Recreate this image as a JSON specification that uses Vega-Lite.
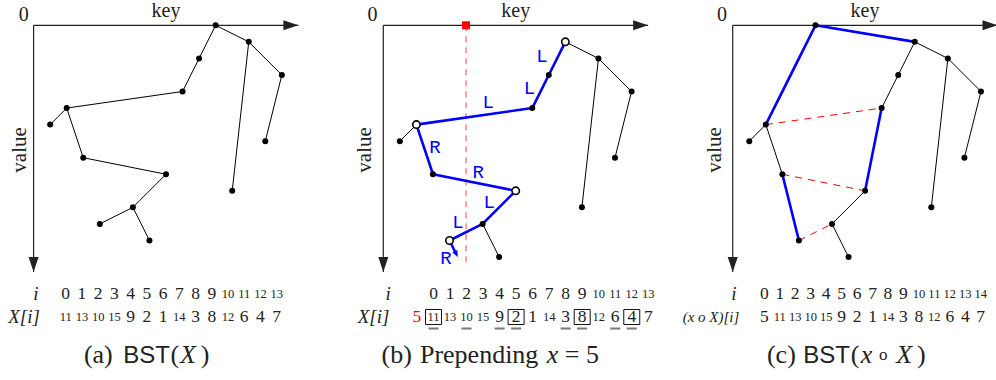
{
 "$schema": "https://vega.github.io/schema/vega-lite/v6.json",
 "padding": 0,
 "background": "white",
 "spacing": 0,
 "bounds": "flush",
 "config": {"view": {"stroke": null}},
 "datasets": {
  "axes": [{"k1":0,"v1":0,"k2":16,"v2":0},{"k1":0,"v1":0,"k2":0,"v2":14.9}],
  "nodesA": [{"k":11,"v":0},{"k":13,"v":1},{"k":10,"v":2},{"k":15,"v":3},{"k":9,"v":4},{"k":2,"v":5},{"k":1,"v":6},{"k":14,"v":7},{"k":3,"v":8},{"k":8,"v":9},{"k":12,"v":10},{"k":6,"v":11},{"k":4,"v":12},{"k":7,"v":13}],
  "edgesA": [{"k1":11,"v1":0,"k2":13,"v2":1},{"k1":11,"v1":0,"k2":10,"v2":2},{"k1":13,"v1":1,"k2":15,"v2":3},{"k1":13,"v1":1,"k2":12,"v2":10},{"k1":15,"v1":3,"k2":14,"v2":7},{"k1":10,"v1":2,"k2":9,"v2":4},{"k1":9,"v1":4,"k2":2,"v2":5},{"k1":2,"v1":5,"k2":1,"v2":6},{"k1":2,"v1":5,"k2":3,"v2":8},{"k1":3,"v1":8,"k2":8,"v2":9},{"k1":8,"v1":9,"k2":6,"v2":11},{"k1":6,"v1":11,"k2":4,"v2":12},{"k1":6,"v1":11,"k2":7,"v2":13}],
  "nodesB": [{"k":11,"v":1,"turn":true},{"k":13,"v":2,"turn":false},{"k":10,"v":3,"turn":false},{"k":15,"v":4,"turn":false},{"k":9,"v":5,"turn":false},{"k":2,"v":6,"turn":true},{"k":1,"v":7,"turn":false},{"k":14,"v":8,"turn":false},{"k":3,"v":9,"turn":false},{"k":8,"v":10,"turn":true},{"k":12,"v":11,"turn":false},{"k":6,"v":12,"turn":false},{"k":4,"v":13,"turn":true},{"k":7,"v":14,"turn":false}],
  "edgesB": [{"k1":11,"v1":1,"k2":13,"v2":2},{"k1":13,"v1":2,"k2":15,"v2":4},{"k1":13,"v1":2,"k2":12,"v2":11},{"k1":15,"v1":4,"k2":14,"v2":8},{"k1":2,"v1":6,"k2":1,"v2":7},{"k1":6,"v1":12,"k2":7,"v2":14}],
  "pathB": [{"k":11,"v":1,"o":0},{"k":10,"v":3,"o":1},{"k":9,"v":5,"o":2},{"k":2,"v":6,"o":3},{"k":3,"v":9,"o":4},{"k":8,"v":10,"o":5},{"k":6,"v":12,"o":6},{"k":4,"v":13,"o":7}],
  "dirB": [{"k":9.59,"v":1.86,"t":"L"},{"k":8.83,"v":3.76,"t":"L"},{"k":6.34,"v":4.66,"t":"L"},{"k":3.12,"v":7.34,"t":"R"},{"k":5.74,"v":8.89,"t":"R"},{"k":6.4,"v":10.68,"t":"L"},{"k":4.51,"v":11.87,"t":"L"},{"k":3.79,"v":14.04,"t":"R"}],
  "nodesC": [{"k":5,"v":0},{"k":11,"v":1},{"k":13,"v":2},{"k":10,"v":3},{"k":15,"v":4},{"k":9,"v":5},{"k":2,"v":6},{"k":1,"v":7},{"k":14,"v":8},{"k":3,"v":9},{"k":8,"v":10},{"k":12,"v":11},{"k":6,"v":12},{"k":4,"v":13},{"k":7,"v":14}],
  "edgesC": [{"k1":11,"v1":1,"k2":13,"v2":2},{"k1":11,"v1":1,"k2":10,"v2":3},{"k1":10,"v1":3,"k2":9,"v2":5},{"k1":13,"v1":2,"k2":15,"v2":4},{"k1":13,"v1":2,"k2":12,"v2":11},{"k1":15,"v1":4,"k2":14,"v2":8},{"k1":2,"v1":6,"k2":1,"v2":7},{"k1":2,"v1":6,"k2":3,"v2":9},{"k1":8,"v1":10,"k2":6,"v2":12},{"k1":6,"v1":12,"k2":7,"v2":14}],
  "blueC": [{"k1":5,"v1":0,"k2":11,"v2":1},{"k1":5,"v1":0,"k2":2,"v2":6},{"k1":3,"v1":9,"k2":4,"v2":13},{"k1":9,"v1":5,"k2":8,"v2":10}],
  "cutC": [{"k1":2,"v1":6,"k2":9,"v2":5},{"k1":3,"v1":9,"k2":8,"v2":10},{"k1":4,"v1":13,"k2":6,"v2":12}],
  "tabA": [{"i":0,"row":"i","n":0},{"i":1,"row":"i","n":1},{"i":2,"row":"i","n":2},{"i":3,"row":"i","n":3},{"i":4,"row":"i","n":4},{"i":5,"row":"i","n":5},{"i":6,"row":"i","n":6},{"i":7,"row":"i","n":7},{"i":8,"row":"i","n":8},{"i":9,"row":"i","n":9},{"i":10,"row":"i","n":10},{"i":11,"row":"i","n":11},{"i":12,"row":"i","n":12},{"i":13,"row":"i","n":13},
   {"i":0,"row":"X","n":11},{"i":1,"row":"X","n":13},{"i":2,"row":"X","n":10},{"i":3,"row":"X","n":15},{"i":4,"row":"X","n":9},{"i":5,"row":"X","n":2},{"i":6,"row":"X","n":1},{"i":7,"row":"X","n":14},{"i":8,"row":"X","n":3},{"i":9,"row":"X","n":8},{"i":10,"row":"X","n":12},{"i":11,"row":"X","n":6},{"i":12,"row":"X","n":4},{"i":13,"row":"X","n":7}],
  "tabB": [{"i":0,"row":"i","n":0},{"i":1,"row":"i","n":1},{"i":2,"row":"i","n":2},{"i":3,"row":"i","n":3},{"i":4,"row":"i","n":4},{"i":5,"row":"i","n":5},{"i":6,"row":"i","n":6},{"i":7,"row":"i","n":7},{"i":8,"row":"i","n":8},{"i":9,"row":"i","n":9},{"i":10,"row":"i","n":10},{"i":11,"row":"i","n":11},{"i":12,"row":"i","n":12},{"i":13,"row":"i","n":13},
   {"i":-1,"row":"X","n":5,"path":false,"box":false},{"i":0,"row":"X","n":11,"path":true,"box":true},{"i":1,"row":"X","n":13,"path":false,"box":false},{"i":2,"row":"X","n":10,"path":true,"box":false},{"i":3,"row":"X","n":15,"path":false,"box":false},{"i":4,"row":"X","n":9,"path":true,"box":false},{"i":5,"row":"X","n":2,"path":true,"box":true},{"i":6,"row":"X","n":1,"path":false,"box":false},{"i":7,"row":"X","n":14,"path":false,"box":false},{"i":8,"row":"X","n":3,"path":true,"box":false},{"i":9,"row":"X","n":8,"path":true,"box":true},{"i":10,"row":"X","n":12,"path":false,"box":false},{"i":11,"row":"X","n":6,"path":true,"box":false},{"i":12,"row":"X","n":4,"path":true,"box":true},{"i":13,"row":"X","n":7,"path":false,"box":false}],
  "tabC": [{"i":0,"row":"i","n":0},{"i":1,"row":"i","n":1},{"i":2,"row":"i","n":2},{"i":3,"row":"i","n":3},{"i":4,"row":"i","n":4},{"i":5,"row":"i","n":5},{"i":6,"row":"i","n":6},{"i":7,"row":"i","n":7},{"i":8,"row":"i","n":8},{"i":9,"row":"i","n":9},{"i":10,"row":"i","n":10},{"i":11,"row":"i","n":11},{"i":12,"row":"i","n":12},{"i":13,"row":"i","n":13},{"i":14,"row":"i","n":14},
   {"i":0,"row":"X","n":5},{"i":1,"row":"X","n":11},{"i":2,"row":"X","n":13},{"i":3,"row":"X","n":10},{"i":4,"row":"X","n":15},{"i":5,"row":"X","n":9},{"i":6,"row":"X","n":2},{"i":7,"row":"X","n":1},{"i":8,"row":"X","n":14},{"i":9,"row":"X","n":3},{"i":10,"row":"X","n":8},{"i":11,"row":"X","n":12},{"i":12,"row":"X","n":6},{"i":13,"row":"X","n":4},{"i":14,"row":"X","n":7}]
 },
 "hconcat": [
  {
   "width": 349, "height": 380,
   "resolve": {"scale": {"x": "independent", "y": "independent"}},
   "layer": [
    {
     "encoding": {
      "x": {"field": "k", "type": "quantitative", "scale": {"domain": [-2.03, 19.057], "nice": false, "zero": false}, "axis": null},
      "y": {"field": "v", "type": "quantitative", "scale": {"domain": [-1.529, 21.43], "nice": false, "zero": false, "reverse": true}, "axis": null}
     },
     "layer": [
      {"data": {"name": "axes"}, "mark": {"type": "rule", "color": "#222", "strokeWidth": 1.2},
       "encoding": {"x": {"field": "k1", "type": "quantitative"}, "y": {"field": "v1", "type": "quantitative"}, "x2": {"field": "k2"}, "y2": {"field": "v2"}}},
      {"data": {"values": [{"k": 16, "v": 0}]}, "mark": {"type": "point", "shape": "M0,0L-2,-0.67L-2,0.67Z", "filled": true, "color": "#222", "size": 225, "opacity": 1, "strokeWidth": 0}},
      {"data": {"values": [{"k": 0, "v": 14.9}]}, "mark": {"type": "point", "shape": "M0,0L-0.67,-2L0.67,-2Z", "filled": true, "color": "#222", "size": 225, "opacity": 1, "strokeWidth": 0}},
      {"data": {"name": "edgesA"}, "mark": {"type": "rule", "color": "#000", "strokeWidth": 1},
       "encoding": {"x": {"field": "k1", "type": "quantitative"}, "y": {"field": "v1", "type": "quantitative"}, "x2": {"field": "k2"}, "y2": {"field": "v2"}}},
      {"data": {"name": "nodesA"}, "mark": {"type": "point", "shape": "circle", "filled": true, "color": "#000", "size": 36, "opacity": 1, "strokeWidth": 0}},
      {"data": {"values": [{"k": -0.6, "v": -0.28, "t": "0"}, {"k": 8.0, "v": -0.48, "t": "key"}]}, "mark": {"type": "text", "font": "Liberation Serif", "fontSize": 20, "align": "center", "baseline": "alphabetic", "color": "#222"}, "encoding": {"text": {"field": "t"}}},
      {"data": {"values": [{"k": -0.82, "v": 7.53, "t": "value"}]}, "mark": {"type": "text", "font": "Liberation Serif", "fontSize": 21, "align": "center", "baseline": "middle", "angle": 270, "color": "#222"}, "encoding": {"text": {"field": "t"}}},
      {"data": {"values": [{"k": 3.91, "v": 20.4, "t": "(a)"}, {"k": 8.53, "v": 20.4, "t": "("}, {"k": 10.36, "v": 20.4, "t": ")"}]}, "mark": {"type": "text", "font": "Liberation Serif", "fontSize": 26, "align": "center", "baseline": "alphabetic", "color": "#222"}, "encoding": {"text": {"field": "t"}}},
      {"data": {"values": [{"k": 6.83, "v": 20.4, "t": "BST"}]}, "mark": {"type": "text", "font": "Liberation Sans", "fontSize": 24, "align": "center", "baseline": "alphabetic", "color": "#222"}, "encoding": {"text": {"field": "t"}}},
      {"data": {"values": [{"k": 9.33, "v": 20.4, "t": "X"}]}, "mark": {"type": "text", "font": "Liberation Serif", "fontStyle": "italic", "fontSize": 26, "align": "center", "baseline": "alphabetic", "color": "#222"}, "encoding": {"text": {"field": "t"}}}
     ]
    },
    {
     "encoding": {
      "x": {"field": "i", "type": "quantitative", "scale": {"domain": [-4.048, 17.456], "nice": false, "zero": false}, "axis": null},
      "y": {"field": "row", "type": "ordinal", "scale": {"type": "point", "domain": ["i", "X"], "range": [294, 317], "padding": 0}, "axis": null}
     },
     "layer": [
      {"data": {"name": "tabA"}, "mark": {"type": "text", "font": "Liberation Serif", "align": "center", "baseline": "middle", "color": "#222"},
       "encoding": {"text": {"field": "n", "type": "nominal"}, "size": {"condition": {"test": "datum.n >= 10", "value": 12.5}, "value": 17.5}}},
      {"data": {"values": [{"i": -1.83, "row": "i", "t": "i"}, {"i": -2.57, "row": "X", "t": "X[i]"}]}, "mark": {"type": "text", "font": "Liberation Serif", "fontStyle": "italic", "fontSize": 19, "align": "center", "baseline": "middle", "color": "#222"}, "encoding": {"text": {"field": "t"}}}
     ]
    }
   ]
  },
  {
   "width": 349, "height": 380,
   "resolve": {"scale": {"x": "independent", "y": "independent"}},
   "layer": [
    {
     "encoding": {
      "x": {"field": "k", "type": "quantitative", "scale": {"domain": [-2.073, 19.015], "nice": false, "zero": false}, "axis": null},
      "y": {"field": "v", "type": "quantitative", "scale": {"domain": [-1.529, 21.43], "nice": false, "zero": false, "reverse": true}, "axis": null}
     },
     "layer": [
      {"data": {"name": "axes"}, "mark": {"type": "rule", "color": "#222", "strokeWidth": 1.2},
       "encoding": {"x": {"field": "k1", "type": "quantitative"}, "y": {"field": "v1", "type": "quantitative"}, "x2": {"field": "k2"}, "y2": {"field": "v2"}}},
      {"data": {"values": [{"k": 16, "v": 0}]}, "mark": {"type": "point", "shape": "M0,0L-2,-0.67L-2,0.67Z", "filled": true, "color": "#222", "size": 225, "opacity": 1, "strokeWidth": 0}},
      {"data": {"values": [{"k": 0, "v": 14.9}]}, "mark": {"type": "point", "shape": "M0,0L-0.67,-2L0.67,-2Z", "filled": true, "color": "#222", "size": 225, "opacity": 1, "strokeWidth": 0}},
      {"data": {"values": [{"k1": 5, "v1": 0, "k2": 5, "v2": 14.48}]}, "mark": {"type": "rule", "color": "#ff7070", "strokeWidth": 1.3, "strokeDash": [6, 5]},
       "encoding": {"x": {"field": "k1", "type": "quantitative"}, "y": {"field": "v1", "type": "quantitative"}, "x2": {"field": "k2"}, "y2": {"field": "v2"}}},
      {"data": {"values": [{"k": 5, "v": 0}]}, "mark": {"type": "point", "shape": "square", "filled": true, "color": "#ff0000", "size": 64, "opacity": 1, "strokeWidth": 0}},
      {"data": {"name": "edgesB"}, "mark": {"type": "rule", "color": "#000", "strokeWidth": 1},
       "encoding": {"x": {"field": "k1", "type": "quantitative"}, "y": {"field": "v1", "type": "quantitative"}, "x2": {"field": "k2"}, "y2": {"field": "v2"}}},
      {"data": {"name": "pathB"}, "mark": {"type": "line", "color": "#0000ff", "strokeWidth": 2.6, "strokeJoin": "round"}, "encoding": {"order": {"field": "o", "type": "quantitative"}}},
      {"data": {"values": [{"k1": 4, "v1": 13, "k2": 4.42, "v2": 13.85}]}, "mark": {"type": "rule", "color": "#0000ff", "strokeWidth": 2.6},
       "encoding": {"x": {"field": "k1", "type": "quantitative"}, "y": {"field": "v1", "type": "quantitative"}, "x2": {"field": "k2"}, "y2": {"field": "v2"}}},
      {"data": {"values": [{"k": 4.5, "v": 14}]}, "mark": {"type": "point", "shape": "M0,0L-0.55,-1.3L0.55,-1.3Z", "angle": -27, "filled": true, "color": "#0000ff", "size": 100, "opacity": 1, "strokeWidth": 0}},
      {"data": {"name": "nodesB"}, "transform": [{"filter": "!datum.turn"}], "mark": {"type": "point", "shape": "circle", "filled": true, "color": "#000", "size": 36, "opacity": 1, "strokeWidth": 0}},
      {"data": {"name": "nodesB"}, "transform": [{"filter": "datum.turn"}], "mark": {"type": "point", "shape": "circle", "filled": true, "fill": "#fff", "stroke": "#000", "strokeWidth": 1.6, "size": 55, "opacity": 1}},
      {"data": {"name": "dirB"}, "mark": {"type": "text", "font": "Liberation Mono", "fontSize": 19, "align": "center", "baseline": "middle", "color": "#0000ff"}, "encoding": {"text": {"field": "t"}}},
      {"data": {"values": [{"k": -0.65, "v": -0.28, "t": "0"}, {"k": 8.0, "v": -0.48, "t": "key"}]}, "mark": {"type": "text", "font": "Liberation Serif", "fontSize": 20, "align": "center", "baseline": "alphabetic", "color": "#222"}, "encoding": {"text": {"field": "t"}}},
      {"data": {"values": [{"k": -1.08, "v": 7.53, "t": "value"}]}, "mark": {"type": "text", "font": "Liberation Serif", "fontSize": 21, "align": "center", "baseline": "middle", "angle": 270, "color": "#222"}, "encoding": {"text": {"field": "t"}}},
      {"data": {"values": [{"k": 0.81, "v": 20.4, "t": "(b)"}, {"k": 5.79, "v": 20.4, "t": "Prepending"}, {"k": 12.0, "v": 20.4, "t": "= 5"}]}, "mark": {"type": "text", "font": "Liberation Serif", "fontSize": 26, "align": "center", "baseline": "alphabetic", "color": "#222"}, "encoding": {"text": {"field": "t"}}},
      {"data": {"values": [{"k": 10.22, "v": 20.4, "t": "x"}]}, "mark": {"type": "text", "font": "Liberation Serif", "fontStyle": "italic", "fontSize": 26, "align": "center", "baseline": "alphabetic", "color": "#222"}, "encoding": {"text": {"field": "t"}}}
     ]
    },
    {
     "encoding": {
      "x": {"field": "i", "type": "quantitative", "scale": {"domain": [-5.115, 16.01], "nice": false, "zero": false}, "axis": null},
      "y": {"field": "row", "type": "ordinal", "scale": {"type": "point", "domain": ["i", "X"], "range": [294, 317], "padding": 0}, "axis": null}
     },
     "layer": [
      {"data": {"name": "tabB"}, "transform": [{"filter": "datum.path"}], "mark": {"type": "point", "shape": "M-1,2.1H1V2.5H-1Z", "filled": true, "color": "#777", "size": 100, "opacity": 1, "strokeWidth": 0}},
      {"data": {"name": "tabB"}, "transform": [{"filter": "datum.box"}], "mark": {"type": "point", "shape": "M-1,-0.94H1V0.94H-1Z", "filled": false, "color": "#111", "strokeWidth": 1, "size": 256, "opacity": 1}},
      {"data": {"name": "tabB"}, "mark": {"type": "text", "font": "Liberation Serif", "align": "center", "baseline": "middle"},
       "encoding": {"text": {"field": "n", "type": "nominal"}, "size": {"condition": {"test": "datum.n >= 10", "value": 12.5}, "value": 17.5}, "color": {"condition": {"test": "datum.i < 0", "value": "#ff0000"}, "value": "#222"}}},
      {"data": {"values": [{"i": -2.74, "row": "i", "t": "i"}, {"i": -3.63, "row": "X", "t": "X[i]"}]}, "mark": {"type": "text", "font": "Liberation Serif", "fontStyle": "italic", "fontSize": 19, "align": "center", "baseline": "middle", "color": "#222"}, "encoding": {"text": {"field": "t"}}}
     ]
    }
   ]
  },
  {
   "width": 298, "height": 380,
   "resolve": {"scale": {"x": "independent", "y": "independent"}},
   "layer": [
    {
     "encoding": {
      "x": {"field": "k", "type": "quantitative", "scale": {"domain": [-2.097, 15.909], "nice": false, "zero": false}, "axis": null},
      "y": {"field": "v", "type": "quantitative", "scale": {"domain": [-1.529, 21.43], "nice": false, "zero": false, "reverse": true}, "axis": null}
     },
     "layer": [
      {"data": {"name": "axes"}, "mark": {"type": "rule", "color": "#222", "strokeWidth": 1.2},
       "encoding": {"x": {"field": "k1", "type": "quantitative"}, "y": {"field": "v1", "type": "quantitative"}, "x2": {"field": "k2"}, "y2": {"field": "v2"}}},
      {"data": {"values": [{"k": 16, "v": 0}]}, "mark": {"type": "point", "shape": "M0,0L-2,-0.67L-2,0.67Z", "filled": true, "color": "#222", "size": 225, "opacity": 1, "strokeWidth": 0}},
      {"data": {"values": [{"k": 0, "v": 14.9}]}, "mark": {"type": "point", "shape": "M0,0L-0.67,-2L0.67,-2Z", "filled": true, "color": "#222", "size": 225, "opacity": 1, "strokeWidth": 0}},
      {"data": {"name": "edgesC"}, "mark": {"type": "rule", "color": "#000", "strokeWidth": 1},
       "encoding": {"x": {"field": "k1", "type": "quantitative"}, "y": {"field": "v1", "type": "quantitative"}, "x2": {"field": "k2"}, "y2": {"field": "v2"}}},
      {"data": {"name": "cutC"}, "mark": {"type": "rule", "color": "#ff0000", "strokeWidth": 1, "strokeDash": [7, 6]},
       "encoding": {"x": {"field": "k1", "type": "quantitative"}, "y": {"field": "v1", "type": "quantitative"}, "x2": {"field": "k2"}, "y2": {"field": "v2"}}},
      {"data": {"name": "blueC"}, "mark": {"type": "rule", "color": "#0000ff", "strokeWidth": 2.6},
       "encoding": {"x": {"field": "k1", "type": "quantitative"}, "y": {"field": "v1", "type": "quantitative"}, "x2": {"field": "k2"}, "y2": {"field": "v2"}}},
      {"data": {"name": "nodesC"}, "mark": {"type": "point", "shape": "circle", "filled": true, "color": "#000", "size": 36, "opacity": 1, "strokeWidth": 0}},
      {"data": {"values": [{"k": -0.65, "v": -0.28, "t": "0"}, {"k": 7.99, "v": -0.48, "t": "key"}]}, "mark": {"type": "text", "font": "Liberation Serif", "fontSize": 20, "align": "center", "baseline": "alphabetic", "color": "#222"}, "encoding": {"text": {"field": "t"}}},
      {"data": {"values": [{"k": -1.07, "v": 7.53, "t": "value"}]}, "mark": {"type": "text", "font": "Liberation Serif", "fontSize": 21, "align": "center", "baseline": "middle", "angle": 270, "color": "#222"}, "encoding": {"text": {"field": "t"}}},
      {"data": {"values": [{"k": 2.94, "v": 20.4, "t": "(c)"}, {"k": 7.39, "v": 20.4, "t": "("}, {"k": 11.4, "v": 20.4, "t": ")"}]}, "mark": {"type": "text", "font": "Liberation Serif", "fontSize": 26, "align": "center", "baseline": "alphabetic", "color": "#222"}, "encoding": {"text": {"field": "t"}}},
      {"data": {"values": [{"k": 9.1, "v": 20.25, "t": "o"}]}, "mark": {"type": "text", "font": "Liberation Serif", "fontSize": 17, "align": "center", "baseline": "alphabetic", "color": "#222"}, "encoding": {"text": {"field": "t"}}},
      {"data": {"values": [{"k": 5.67, "v": 20.4, "t": "BST"}]}, "mark": {"type": "text", "font": "Liberation Sans", "fontSize": 24, "align": "center", "baseline": "alphabetic", "color": "#222"}, "encoding": {"text": {"field": "t"}}},
      {"data": {"values": [{"k": 8.08, "v": 20.4, "t": "x"}, {"k": 10.36, "v": 20.4, "t": "X"}]}, "mark": {"type": "text", "font": "Liberation Serif", "fontStyle": "italic", "fontSize": 26, "align": "center", "baseline": "alphabetic", "color": "#222"}, "encoding": {"text": {"field": "t"}}}
     ]
    },
    {
     "encoding": {
      "x": {"field": "i", "type": "quantitative", "scale": {"domain": [-4.289, 14.987], "nice": false, "zero": false}, "axis": null},
      "y": {"field": "row", "type": "ordinal", "scale": {"type": "point", "domain": ["i", "X"], "range": [294, 317], "padding": 0}, "axis": null}
     },
     "layer": [
      {"data": {"name": "tabC"}, "mark": {"type": "text", "font": "Liberation Serif", "align": "center", "baseline": "middle", "color": "#222"},
       "encoding": {"text": {"field": "n", "type": "nominal"}, "size": {"condition": {"test": "datum.n >= 10", "value": 12.5}, "value": 17.5}}},
      {"data": {"values": [{"i": -1.96, "row": "i", "t": "i"}]}, "mark": {"type": "text", "font": "Liberation Serif", "fontStyle": "italic", "fontSize": 19, "align": "center", "baseline": "middle", "color": "#222"}, "encoding": {"text": {"field": "t"}}},
      {"data": {"values": [{"i": -3.45, "row": "X", "t": "(x o X)[i]"}]}, "mark": {"type": "text", "font": "Liberation Serif", "fontStyle": "italic", "fontSize": 15, "align": "center", "baseline": "middle", "color": "#222"}, "encoding": {"text": {"field": "t"}}}
     ]
    }
   ]
  }
 ]
}
